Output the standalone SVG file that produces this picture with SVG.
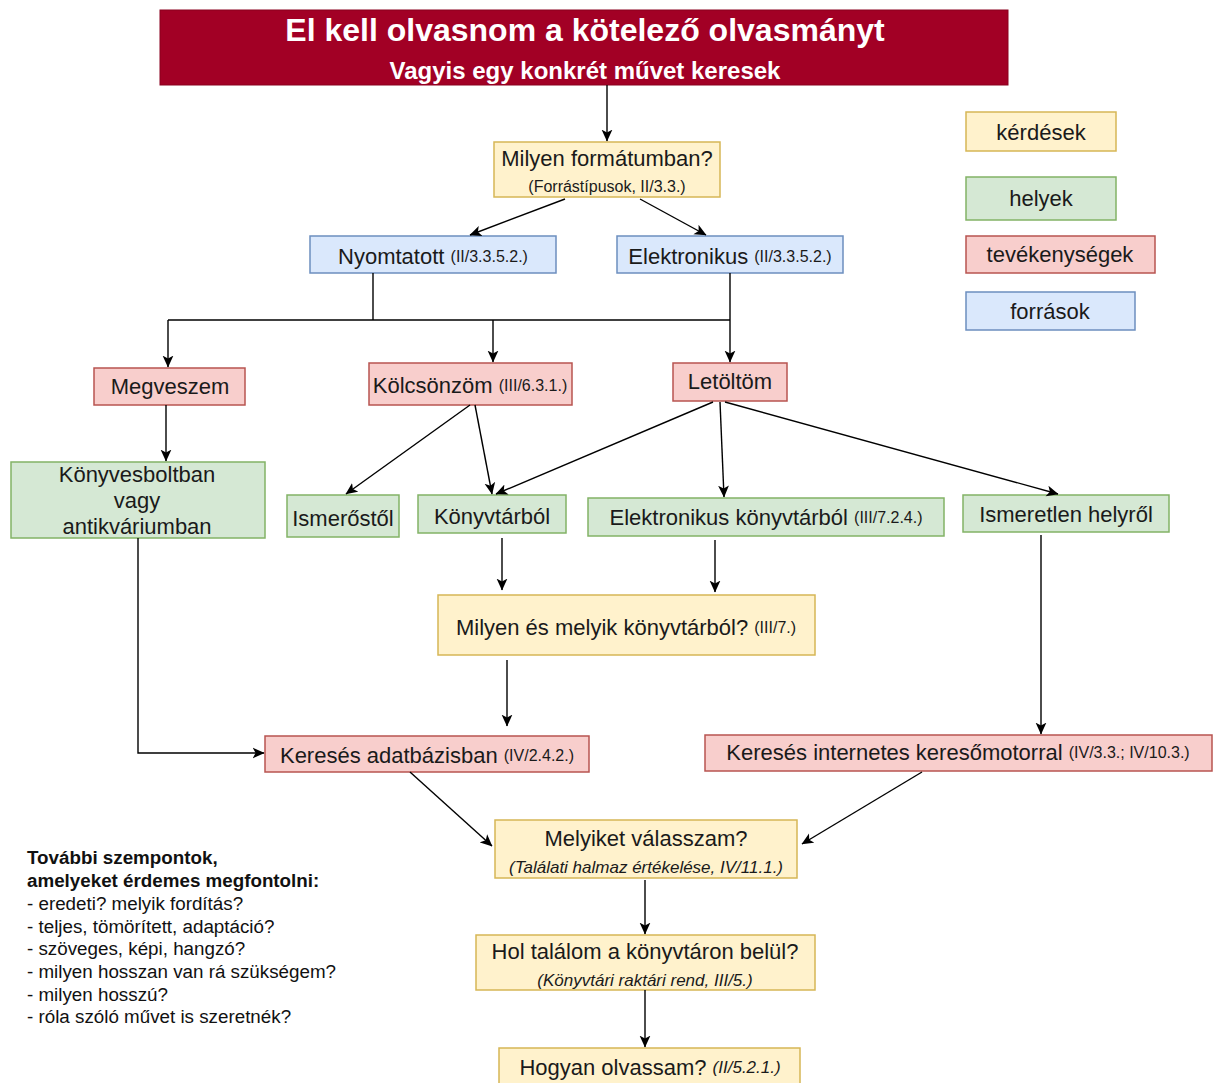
<svg xmlns="http://www.w3.org/2000/svg" width="1213" height="1083" viewBox="0 0 1213 1083">
<style>
text{font-family:"Liberation Sans",Arial,sans-serif;fill:#1a1a1a;dominant-baseline:central;text-anchor:middle}
.t{font-size:22px}
.r{font-size:16px}
.ri{font-size:17px;font-style:italic}
.q{fill:#fff2cc;stroke:#d6b656;stroke-width:1.5}
.p{fill:#d5e8d4;stroke:#82b366;stroke-width:1.5}
.a{fill:#f8cecc;stroke:#b85450;stroke-width:1.5}
.s{fill:#dae8fc;stroke:#6c8ebf;stroke-width:1.5}
.c path{fill:none;stroke:#000;stroke-width:1.4}
.c path.ar{marker-end:url(#ah)}
.note{font-size:18.8px;text-anchor:start;fill:#111}
</style>
<defs>
<marker id="ah" viewBox="0 0 10 10" refX="9.5" refY="5" markerWidth="12" markerHeight="12" markerUnits="userSpaceOnUse" orient="auto">
<path d="M0,0.5 L10,5 L0,9.5 L2.5,5 Z" fill="#000"/>
</marker>
</defs>
<rect width="1213" height="1083" fill="#fff"/>

<g id="title">
<rect x="160" y="10" width="848" height="75" fill="#a20025" stroke="#8a001f" stroke-width="1"/>
<text x="585" y="30" style="font-size:32px;font-weight:bold;fill:#fff">El kell olvasnom a kötelező olvasmányt</text>
<text x="585" y="70" style="font-size:24px;font-weight:bold;fill:#fff">Vagyis egy konkrét művet keresek</text>
</g>

<g id="formatum">
<rect class="q" x="494" y="142" width="226" height="55"/>
<text class="t" x="607" y="158">Milyen formátumban?</text>
<text class="r" x="607" y="186">(Forrástípusok, II/3.3.)</text>
</g>

<g id="nyomtatott">
<rect class="s" x="310" y="236" width="246" height="37"/>
<text class="t" x="433" y="256"><tspan>Nyomtatott </tspan><tspan class="r">(II/3.3.5.2.)</tspan></text>
</g>

<g id="elektronikus">
<rect class="s" x="617" y="236" width="226" height="37"/>
<text class="t" x="730" y="256"><tspan>Elektronikus </tspan><tspan class="r">(II/3.3.5.2.)</tspan></text>
</g>

<g id="megveszem">
<rect class="a" x="94" y="368" width="151" height="37"/>
<text class="t" x="170" y="386">Megveszem</text>
</g>

<g id="kolcsonzom">
<rect class="a" x="369" y="363" width="203" height="42"/>
<text class="t" x="470" y="385"><tspan>Kölcsönzöm </tspan><tspan class="r">(III/6.3.1.)</tspan></text>
</g>

<g id="letoltom">
<rect class="a" x="673" y="363" width="114" height="38"/>
<text class="t" x="730" y="381">Letöltöm</text>
</g>

<g id="konyvesbolt">
<rect class="p" x="11" y="462" width="254" height="76"/>
<text class="t" x="137" y="474">Könyvesboltban</text>
<text class="t" x="137" y="500">vagy</text>
<text class="t" x="137" y="526">antikváriumban</text>
</g>

<g id="ismerostol">
<rect class="p" x="287" y="495" width="112" height="42"/>
<text class="t" x="343" y="518">Ismerőstől</text>
</g>

<g id="konyvtarbol">
<rect class="p" x="418" y="495" width="148" height="38"/>
<text class="t" x="492" y="516">Könyvtárból</text>
</g>

<g id="ekonyvtarbol">
<rect class="p" x="588" y="498" width="356" height="38"/>
<text class="t" x="766" y="517"><tspan>Elektronikus könyvtárból </tspan><tspan class="r">(III/7.2.4.)</tspan></text>
</g>

<g id="ismeretlen">
<rect class="p" x="963" y="495" width="206" height="37"/>
<text class="t" x="1066" y="514">Ismeretlen helyről</text>
</g>

<g id="melyik_konyvtar">
<rect class="q" x="438" y="595" width="377" height="60"/>
<text class="t" x="626" y="627"><tspan>Milyen és melyik könyvtárból? </tspan><tspan class="r">(III/7.)</tspan></text>
</g>

<g id="adatbazis">
<rect class="a" x="265" y="736" width="324" height="36"/>
<text class="t" x="427" y="755"><tspan>Keresés adatbázisban </tspan><tspan class="r">(IV/2.4.2.)</tspan></text>
</g>

<g id="internetes">
<rect class="a" x="705" y="735" width="507" height="36"/>
<text class="t" x="958" y="752"><tspan>Keresés internetes keresőmotorral </tspan><tspan class="r">(IV/3.3.; IV/10.3.)</tspan></text>
</g>

<g id="valasszam">
<rect class="q" x="495" y="820" width="302" height="58"/>
<text class="t" x="646" y="838">Melyiket válasszam?</text>
<text class="ri" x="646" y="867">(Találati halmaz értékelése, IV/11.1.)</text>
</g>

<g id="hol">
<rect class="q" x="476" y="935" width="339" height="55"/>
<text class="t" x="645" y="951">Hol találom a könyvtáron belül?</text>
<text class="ri" x="645" y="980">(Könyvtári raktári rend, III/5.)</text>
</g>

<g id="hogyan">
<rect class="q" x="499" y="1048" width="301" height="40"/>
<text class="t" x="650" y="1067"><tspan>Hogyan olvassam? </tspan><tspan class="ri">(II/5.2.1.)</tspan></text>
</g>

<g id="legend">
<g id="leg_kerdesek"><rect class="q" x="966" y="112" width="150" height="39"/><text class="t" x="1041" y="132">kérdések</text></g>
<g id="leg_helyek"><rect class="p" x="966" y="177" width="150" height="43"/><text class="t" x="1041" y="198">helyek</text></g>
<g id="leg_tevekenysegek"><rect class="a" x="966" y="236" width="189" height="37"/><text class="t" x="1060" y="254">tevékenységek</text></g>
<g id="leg_forrasok"><rect class="s" x="966" y="292" width="169" height="38"/><text class="t" x="1050" y="311">források</text></g>
</g>

<g id="notes">
<text class="note" x="27" y="857" style="font-weight:bold">További szempontok,</text>
<text class="note" x="27" y="880" style="font-weight:bold">amelyeket érdemes megfontolni:</text>
<text class="note" x="27" y="903">- eredeti? melyik fordítás?</text>
<text class="note" x="27" y="926">- teljes, tömörített, adaptáció?</text>
<text class="note" x="27" y="948">- szöveges, képi, hangzó?</text>
<text class="note" x="27" y="971">- milyen hosszan van rá szükségem?</text>
<text class="note" x="27" y="994">- milyen hosszú?</text>
<text class="note" x="27" y="1016">- róla szóló művet is szeretnék?</text>
</g>

<g id="connectors" class="c">
<path class="ar" d="M607,85 L607,141"/>
<path class="ar" d="M565,199 L470,235"/>
<path class="ar" d="M640,199 L706,235"/>
<path d="M373,273 L373,320"/>
<path d="M168,320 L730,320"/>
<path class="ar" d="M730,273 L730,362"/>
<path class="ar" d="M168,320 L168,367"/>
<path class="ar" d="M493,320 L493,362"/>
<path class="ar" d="M166,405 L166,461"/>
<path class="ar" d="M470,405 L346,494"/>
<path class="ar" d="M475,405 L492,494"/>
<path class="ar" d="M713,402 L496,494"/>
<path class="ar" d="M720,402 L724,497"/>
<path class="ar" d="M725,402 L1058,494"/>
<path class="ar" d="M502,538 L502,590"/>
<path class="ar" d="M715,540 L715,592"/>
<path class="ar" d="M507,660 L507,726"/>
<path class="ar" d="M138,538 L138,753 L264,753"/>
<path class="ar" d="M1041,535 L1041,734"/>
<path class="ar" d="M410,772 L492,846"/>
<path class="ar" d="M922,772 L802,844"/>
<path class="ar" d="M645,880 L645,934"/>
<path class="ar" d="M645,990 L645,1047"/>
</g>
</svg>
